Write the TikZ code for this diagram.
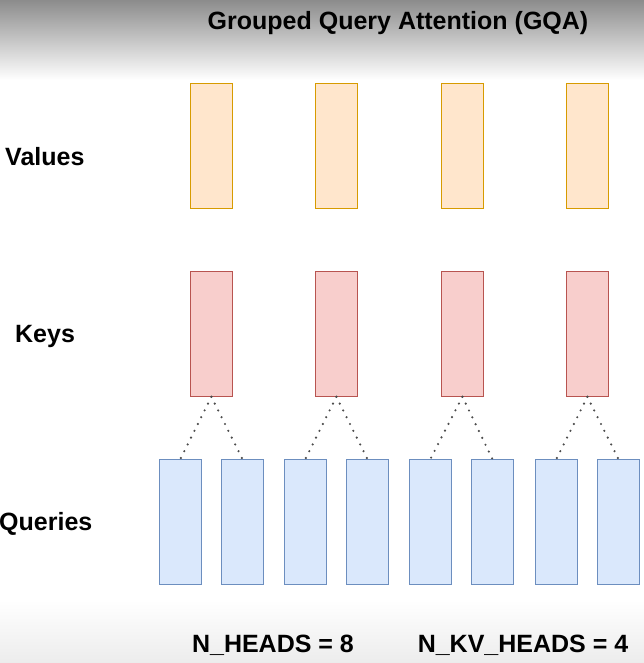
\documentclass[tikz,border=0pt]{standalone}
\usepackage{fontspec}
\setmainfont{Liberation Sans}
\definecolor{valfill}{HTML}{FFE6CC}
\definecolor{valdraw}{HTML}{D79B00}
\definecolor{keyfill}{HTML}{F8CECC}
\definecolor{keydraw}{HTML}{B85450}
\definecolor{qfill}{HTML}{DAE8FC}
\definecolor{qdraw}{HTML}{6C8EBF}
\definecolor{topgray}{HTML}{8C8C8C}
\definecolor{botgray}{HTML}{ECECEC}
\tikzset{
  headbox/.style={draw, line width=0.8pt, minimum width=42pt, minimum height=125pt, inner sep=0pt, anchor=north west},
  valbox/.style={headbox, fill=valfill, draw=valdraw},
  keybox/.style={headbox, fill=keyfill, draw=keydraw},
  qbox/.style={headbox, fill=qfill, draw=qdraw},
  lbl/.style={font=\bfseries\fontsize{25}{28}\selectfont, inner sep=0pt},
  grp/.style={line width=2.4pt, line cap=round, dash pattern=on 0pt off 7.6pt, black!70}
}
\begin{document}
\begin{tikzpicture}[x=1pt,y=-1pt]
\useasboundingbox (0,0) rectangle (644,663);
\fill[white] (0,0) rectangle (644,663);
\shade[top color=topgray, bottom color=white] (0,0) rectangle (644,80);
\shade[top color=white, bottom color=botgray] (0,600) rectangle (644,663);
\node[lbl] (title) at (398,23) {Grouped Query Attention (GQA)};
\node[lbl, anchor=west] (lv) at (5,157) {Values};
\node[lbl, anchor=west] (lk) at (15,336) {Keys};
\node[lbl, anchor=west] (lq) at (-1,524) {Queries};
\node[lbl] (nh) at (273,645) {N\_HEADS = 8};
\node[lbl] (nkv) at (523,645) {N\_KV\_HEADS = 4};
\foreach \i/\x in {1/190,2/315,3/441,4/566}{
  \node[valbox] (v\i) at (\x,83) {};
  \node[keybox] (k\i) at (\x,271) {};
}
\foreach \i/\x in {1/159,2/221,3/284,4/346,5/409,6/471,7/535,8/597}{
  \node[qbox] (q\i) at (\x,459) {};
}
\foreach \k/\a/\b in {1/1/2,2/3/4,3/5/6,4/7/8}{
  \draw[grp] (k\k.south) -- (q\a.north);
  \draw[grp] (k\k.south) -- (q\b.north);
}
\end{tikzpicture}
\end{document}
